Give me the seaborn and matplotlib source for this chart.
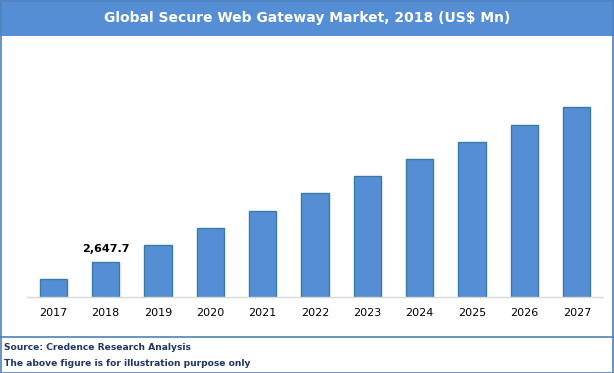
import pandas as pd
import matplotlib
matplotlib.use('Agg')
import matplotlib.pyplot as plt
import seaborn as sns
from matplotlib.patches import Rectangle
from matplotlib.lines import Line2D

years = ['2017', '2018', '2019', '2020', '2021', '2022', '2023', '2024', '2025', '2026', '2027']
values = [1380, 2647.7, 3930, 5220, 6500, 7860, 9150, 10430, 11720, 13000, 14370]
labelled = {'2018': '2,647.7'}

df = pd.DataFrame({'year': years, 'value': values})

bar_col = '#558ED5'
edge_col = '#3A7BA3'
navy = '#1F3864'

sns.set_style('white')
plt.rcParams['font.family'] = ['DejaVu Sans']

fig = plt.figure(figsize=(6.14, 3.73), dpi=100)
W, H = 614, 373

# axes in pixel coords -> figure fractions
left, right, bottom, top = 27, 603, 297, 45
ax = fig.add_axes([left / W, 1 - bottom / H, (right - left) / W, (bottom - top) / H])

sns.barplot(data=df, x='year', y='value', color=bar_col, width=0.52,
            edgecolor=edge_col, linewidth=1, saturation=1, ax=ax)
ax.set_ylim(0, 14370 * (bottom - top) / 190)
ax.set_xlim(-0.5, 10.5)
ax.set_xlabel('')
ax.set_ylabel('')
ax.set_yticks([])
ax.tick_params(axis='x', length=0, labelsize=8, colors='#000000', pad=8)
for s in ['top', 'right', 'left']:
    ax.spines[s].set_visible(False)
ax.spines['bottom'].set_color('#D9D9D9')
ax.spines['bottom'].set_linewidth(1)

for i, y in enumerate(years):
    if y in labelled:
        ax.text(i, values[i] + 600, labelled[y], ha='center', va='bottom',
                fontsize=8, fontweight='bold', color='#000000')

# title banner
fig.patches.append(Rectangle((0, 1 - 36 / H), 1, 36 / H, transform=fig.transFigure,
                             facecolor=bar_col, edgecolor='none', zorder=0))
fig.text(0.5, 1 - 18 / H, 'Global Secure Web Gateway Market, 2018 (US$ Mn)',
         ha='center', va='center', fontsize=10, fontweight='bold', color='white')

# outer border and footer separator
fig.patches.append(Rectangle((0.5 / W, 0.5 / H), 1 - 1.5 / W, 1 - 1.5 / H,
                             transform=fig.transFigure, fill=False,
                             edgecolor='#4F81BD', linewidth=1.2))
fig.lines.append(Line2D([0, 1], [1 - 336.5 / H] * 2, transform=fig.transFigure,
                        color='#4F81BD', linewidth=1.2))

fig.text(4 / W, 1 - 347 / H, 'Source: Credence Research Analysis', ha='left', va='center',
         fontsize=6.6, fontweight='bold', color=navy)
fig.text(4 / W, 1 - 363 / H, 'The above figure is for illustration purpose only', ha='left',
         va='center', fontsize=6.6, fontweight='bold', color=navy)

fig.savefig('out.png', dpi=100)
